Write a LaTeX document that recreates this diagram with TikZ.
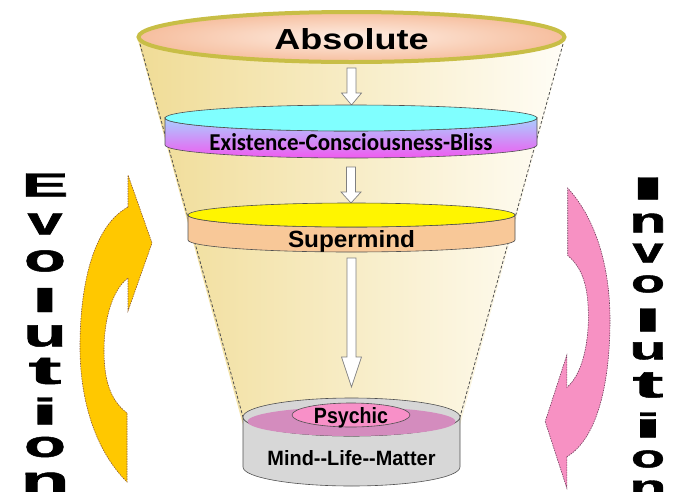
\documentclass[tikz,border=0pt]{standalone}
\usepackage{fontspec}
\usepackage{graphicx}
\newfontfamily\arialb{Liberation Sans}
\newfontfamily\calib{Carlito}
\newfontfamily\heavy{Liberation Sans}[FakeBold=1.2]
\newcommand\sqz[3]{\resizebox{#1pt}{#2pt}{#3}}
\definecolor{funL}{RGB}{240,220,150}
\definecolor{funM}{RGB}{248,236,198}
\definecolor{funR}{RGB}{255,253,246}
\definecolor{rimC}{RGB}{200,190,70}
\definecolor{peachO}{RGB}{246,190,158}
\definecolor{peachI}{RGB}{254,238,228}
\definecolor{cyanT}{RGB}{128,255,255}
\definecolor{sideB}{RGB}{168,208,255}
\definecolor{sideM}{RGB}{240,90,240}
\definecolor{yelT}{RGB}{255,245,0}
\definecolor{peachS}{RGB}{248,200,152}
\definecolor{grayT}{RGB}{214,214,214}
\definecolor{grayE}{RGB}{215,215,215}
\definecolor{grayC}{RGB}{238,238,238}
\definecolor{mauve}{RGB}{212,140,190}
\definecolor{pinkP}{RGB}{248,144,200}
\definecolor{gold}{RGB}{255,200,0}
\definecolor{pinkA}{RGB}{247,145,195}
\definecolor{edgeG}{RGB}{80,80,80}
\definecolor{brownE}{RGB}{140,90,50}
\definecolor{purpE}{RGB}{110,60,90}
\newcommand\blockarrow[4]{%
  \draw[hollowarrow] (#1-4.5,#2) -- (#1+4.5,#2) -- (#1+4.5,#3) -- (#1+10,#3)
    -- (#1,#4) -- (#1-10,#3) -- (#1-4.5,#3) -- cycle;}
\begin{document}
\begin{tikzpicture}[x=1pt,y=-1pt,
  funneledge/.style={draw=edgeG, line width=0.8pt, dash pattern=on 3pt off 2pt},
  diskedge/.style={draw=edgeG, line width=0.6pt},
  hollowarrow/.style={draw=gray, fill=white, line width=0.7pt},
  lbl/.style={anchor=base, inner sep=0pt},
  letter/.style={inner sep=0pt},
  curvedarrow/.style={line width=0.6pt, dash pattern=on 1.5pt off 1pt}]
\useasboundingbox (0,0) rectangle (673,491);
\clip (0,0) rectangle (673,491);
% funnel body
\shade[left color=funL, middle color=funM, right color=funR]
  (138,40) -- (565,40) -- (460,425) -- (243,425) -- cycle;
\draw[funneledge] (140,44) -- (243,417);
\draw[funneledge] (563,44) -- (460,417);
% top ellipse
\shade[inner color=peachI, outer color=peachO] (351.5,37) ellipse [x radius=213, y radius=25];
\draw[rimC, line width=4pt] (351.5,37) ellipse [x radius=213, y radius=25];
\node[lbl] (abs) at (351.5,49) {\arialb\bfseries\sqz{154}{21}{Absolute}};
% arrow 1
\blockarrow{351.5}{68}{93}{105}
% Existence disk
\shade[top color=sideB, bottom color=sideM, diskedge]
  (165,118) -- (165,145) arc[start angle=180, end angle=0, x radius=186, y radius=13]
  -- (537,118) arc[start angle=0, end angle=180, x radius=186, y radius=13] -- cycle;
\draw[diskedge, fill=cyanT] (351,118) ellipse [x radius=186, y radius=13];
\node[lbl] (ecb) at (351,150) {\calib\bfseries\sqz{283}{17}{Existence-Consciousness-Bliss}};
% arrow 2
\blockarrow{351}{167}{192}{203}
% Supermind disk
\fill[peachS, diskedge]
  (188,215) -- (188,240) arc[start angle=180, end angle=0, x radius=163.5, y radius=12]
  -- (515,215) arc[start angle=0, end angle=180, x radius=163.5, y radius=12] -- cycle;
\draw[diskedge, fill=yelT] (351.5,215) ellipse [x radius=163.5, y radius=12];
\node[lbl] (sup) at (351.5,247) {\arialb\bfseries\sqz{127}{17}{Supermind}};
% arrow 3
\blockarrow{351.5}{258}{357}{387}
% bottom cylinder
\shade[left color=grayE, middle color=grayC, right color=grayE, diskedge]
  (243,417) -- (243,467) arc[start angle=180, end angle=0, x radius=108.5, y radius=19]
  -- (460,417) arc[start angle=0, end angle=180, x radius=108.5, y radius=19] -- cycle;
\draw[diskedge, fill=grayT] (351.5,417) ellipse [x radius=108.5, y radius=19];
\fill[mauve] (351.5,421.5) ellipse [x radius=104, y radius=14.5];
\draw[diskedge, fill=pinkP] (351,415) ellipse [x radius=59, y radius=12];
\node[lbl] (psy) at (351,423.5) {\arialb\bfseries\sqz{74}{16}{Psychic}};
\node[lbl] (mlm) at (351.5,465) {\arialb\bfseries\sqz{168}{15}{Mind-{}-Life-{}-Matter}};
% Evolution arrow
\def\curvedpath{(128,207) -- (128,175) -- (152,243) -- (128,311) -- (128,278)
  .. controls (112,290) and (104,320) .. (104,350)
  .. controls (104,380) and (110,400) .. (127,413) -- (127,482)
  .. controls (95,450) and (80,400) .. (80,347)
  .. controls (80,280) and (95,225) .. (128,207) -- cycle}
\filldraw[curvedarrow, fill=gold, draw=brownE] \curvedpath;
\begin{scope}[shift={(682,659)}, xscale=-0.9, yscale=-0.977]
\filldraw[curvedarrow, fill=pinkA, draw=purpE] \curvedpath;
\end{scope}
% Evolution letters
\foreach \ch/\yy/\ww/\hh [count=\k] in {E/185/47/23, v/224/35/21, o/261/42/21,
   l/300/28/24, u/336/43/21, t/371/33/26, i/411/28/27, o/447/42/20, n/483/49/21}
  \node[letter] (evo\k) at (45,\yy) {\heavy\bfseries\sqz{\ww}{\hh}{\ch}};
% Involution letters
\foreach \ch/\yy/\ww/\hh [count=\k] in {I/188.5/36/22, n/223/37/19, v/253/31/19,
   o/284/34/17, l/320/29/23, u/351/37/17, t/385/31/25, i/425/29/25, o/459/34/17, n/489/37/17}
  \node[letter] (inv\k) at (648,\yy) {\heavy\bfseries\sqz{\ww}{\hh}{\ch}};
\end{tikzpicture}
\end{document}
